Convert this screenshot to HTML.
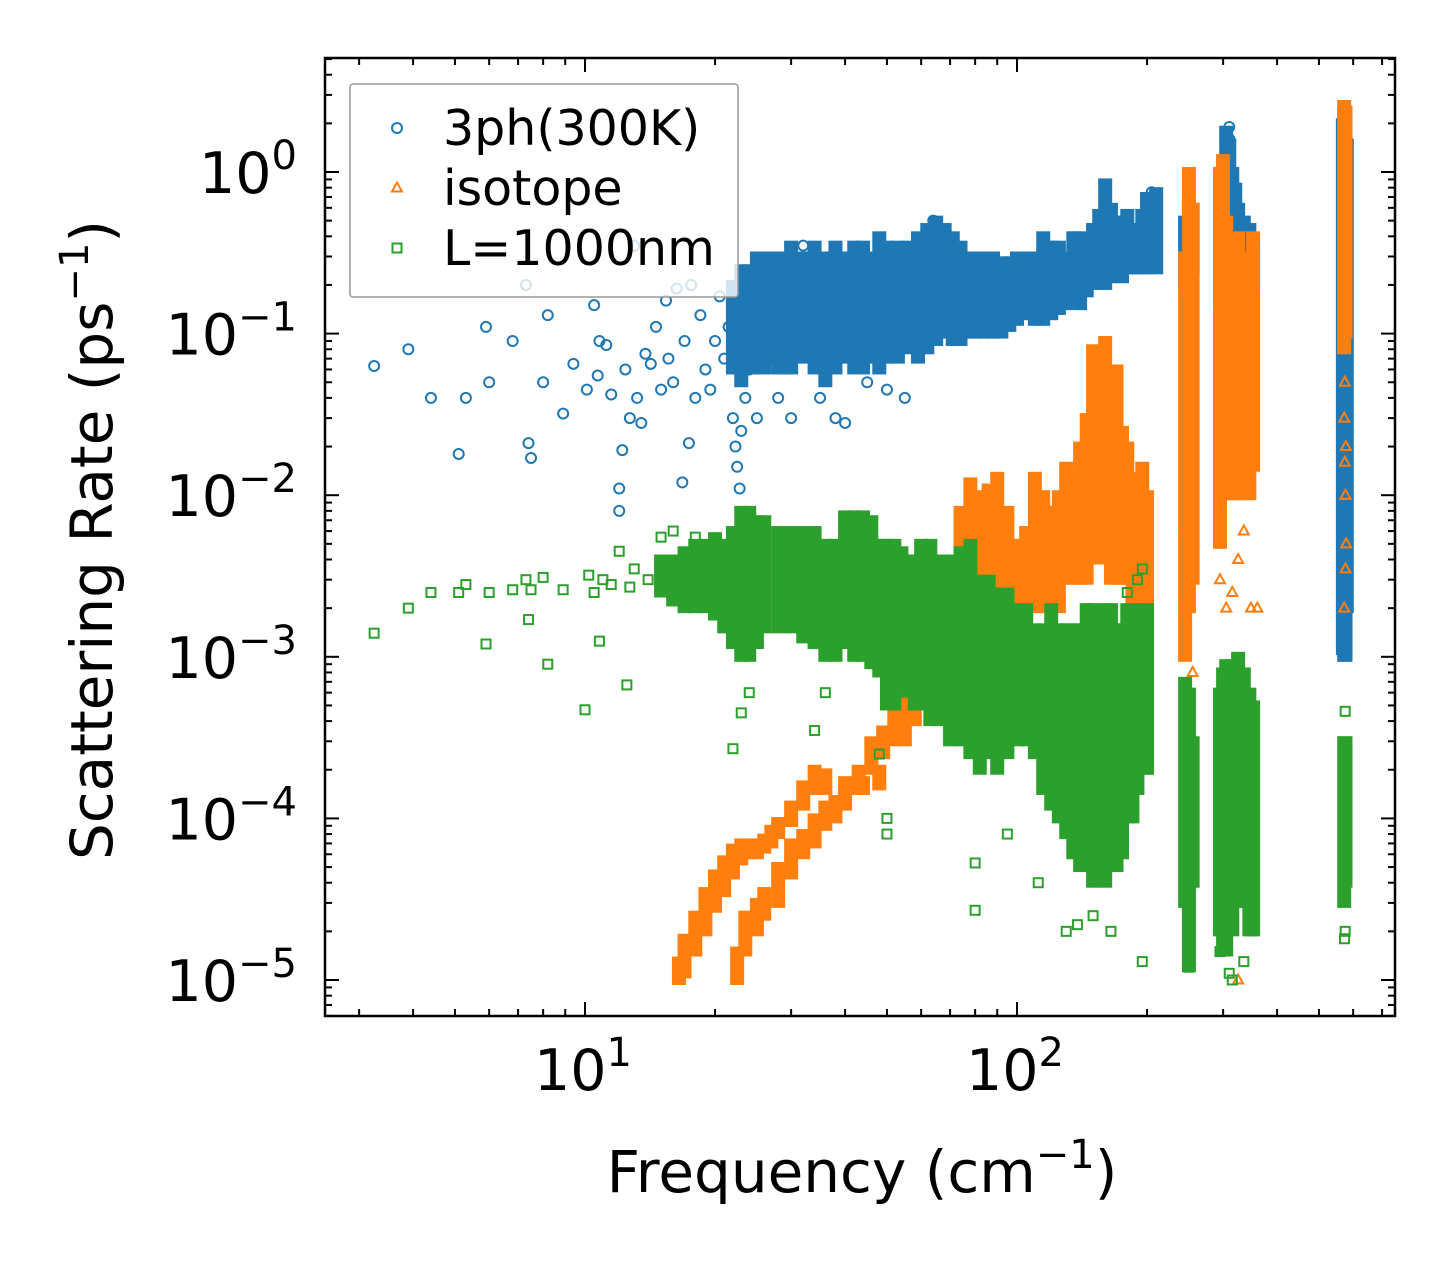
<!DOCTYPE html>
<html><head><meta charset="utf-8">
<style>
html,body{margin:0;padding:0;background:#fff;}
svg{display:block;font-family:"DejaVu Sans","Liberation Sans",sans-serif;}
</style></head>
<body>
<svg id="chart" width="1455" height="1265" viewBox="0 0 1455 1265" xmlns="http://www.w3.org/2000/svg">
<rect x="0" y="0" width="1455" height="1265" fill="#fff"/>
<defs><clipPath id="clip"><rect x="325" y="58" width="1070" height="958"/></clipPath></defs>
<g id="plot" clip-path="url(#clip)"></g>
<g id="axes"></g>
</svg>
<script>
// ---- data ----
const blueCols = [[22,.06,.2],[23,.05,.25],[24,.06,.25],[25,.06,.3],[26,.06,.3],[27,.07,.3],[28,.06,.3],[29,.06,.3],[30,.06,.35],[32,.07,.3],[34,.06,.35],[36,.05,.3],[38,.06,.35],[40,.07,.3],[42,.06,.35],[44,.06,.35],[46,.07,.3],[48,.06,.4],[50,.07,.35],[53,.07,.35],[56,.08,.35],[59,.07,.4],[62,.08,.45],[65,.09,.5],[68,.1,.45],[71,.09,.4],[74,.09,.35],[77,.1,.3],[80,.1,.3],[84,.1,.3],[88,.1,.3],[92,.1,.28],[96,.11,.28],[100,.12,.3],[105,.13,.3],[110,.12,.3],[115,.12,.4],[120,.13,.35],[125,.14,.35],[130,.15,.3],[135,.16,.4],[140,.15,.4],[145,.18,.35],[150,.2,.45],[155,.22,.55],[160,.2,.85],[165,.22,.6],[170,.23,.5],[175,.22,.5],[180,.25,.55],[185,.25,.45],[190,.25,.45],[195,.25,.55],[200,.25,.7],[210,.25,.75],[245,.2,.5],[250,.2,.65],[255,.25,.6],[295,.15,.9],[300,.12,1.2],[305,.13,1.8],[310,.15,1.5],[315,.15,1.0],[320,.2,.8],[325,.2,.6],[335,.15,.5],[345,.18,.45],[352,.2,.35],[568,.0011,2.0],[572,.001,2.3],[576,.001,2.2],[580,.002,1.5]];
const bluePts = [[3.25,.063],[3.9,.08],[4.4,.04],[5.1,.018],[5.3,.04],[5.9,.11],[6,.05],[6.8,.09],[7.3,.2],[7.4,.021],[7.5,.017],[8,.05],[8.2,.13],[8.9,.032],[9.4,.065],[10.1,.045],[10.5,.15],[10.7,.055],[10.8,.09],[11.2,.085],[11.5,.042],[12,.011],[12,.008],[12.2,.019],[12.4,.06],[12.7,.03],[13,.35],[13.2,.04],[13.5,.028],[13.8,.075],[14.2,.065],[14.6,.11],[15,.045],[15.4,.16],[15.6,.07],[16,.05],[16.3,.19],[16.8,.012],[17,.09],[17.4,.021],[17.6,.2],[18,.04],[18.5,.13],[19,.06],[19.5,.045],[20,.09],[20.5,.17],[21,.07],[21.5,.11],[22,.03],[22.3,.02],[22.5,.015],[22.8,.011],[23,.025],[23.5,.04],[24,.06],[25,.03],[27,.2],[28,.04],[30,.03],[32,.35],[35,.04],[38,.03],[40,.028],[42,.3],[45,.05],[50,.045],[55,.04],[64,.5],[205,.75],[310,1.9],[310,1.6]];
const orangeCols = [[16.5,1e-5,1.3e-5],[17,1.1e-5,1.8e-5],[18,1.5e-5,2.5e-5],[19,2e-5,3.5e-5],[20,2.8e-5,4.5e-5],[21,3.5e-5,5.5e-5],[22,4.5e-5,6.5e-5],[23,5.5e-5,7e-5],[24,6e-5,7e-5],[25,6e-5,7e-5],[26,6.5e-5,7.5e-5],[27,7e-5,8.5e-5],[28,8e-5,9.5e-5],[30,9.5e-5,1.2e-4],[32,1.2e-4,1.6e-4],[34,1.5e-4,2e-4],[36,1.5e-4,1.9e-4],[40,1.5e-4,1.7e-4],[44,1.5e-4,1.7e-4],[48,1.6e-4,2e-4],[22.5,1e-5,1.5e-5],[23.5,1.5e-5,2.5e-5],[25,2e-5,3e-5],[26,2.5e-5,3.5e-5],[28,3e-5,5e-5],[30,4.5e-5,7e-5],[32,6e-5,8e-5],[34,7e-5,1e-4],[36,9e-5,1.2e-4],[38,1e-4,1.3e-4],[40,1.2e-4,1.5e-4],[43,1.5e-4,2e-4],[46,2e-4,3e-4],[49,2.5e-4,3.5e-4],[52,3e-4,5e-4],[55,3e-4,7e-4],[58,4e-4,1e-3],[62,5e-4,2e-3],[66,7e-4,3e-3],[70,8e-4,4e-3],[74,1e-3,8e-3],[78,1.5e-3,1.2e-2],[82,2e-3,1e-2],[86,2e-3,1.1e-2],[90,2e-3,1.3e-2],[95,2e-3,8e-3],[100,1e-3,5e-3],[105,1.5e-3,6e-3],[110,2e-3,1.3e-2],[115,2e-3,1e-2],[120,2e-3,8e-3],[125,2e-3,1e-2],[130,3e-3,1.5e-2],[135,3e-3,1.3e-2],[140,3e-3,2e-2],[145,3e-3,3e-2],[150,4e-3,8e-2],[155,4e-3,6e-2],[160,4e-3,9e-2],[165,3e-3,4e-2],[170,3e-3,6e-2],[175,3e-3,2.5e-2],[180,3e-3,2e-2],[185,2e-3,1.3e-2],[190,2e-3,1e-2],[195,2e-3,1.5e-2],[200,2e-3,1e-2],[245,1e-3,0.3],[250,2e-3,1.0],[255,3e-3,0.6],[295,5e-3,1.0],[300,1e-2,1.2],[305,1e-2,0.5],[315,1e-2,0.3],[325,1e-2,0.4],[335,1e-2,0.2],[345,1e-2,0.3],[352,1.5e-2,0.4],[572,0.08,2.6],[576,0.1,2.4]];
const orangePts = [[245,.002],[250,.004],[255,.0008],[248,.006],[295,.003],[305,.002],[315,.0025],[325,.004],[335,.006],[348,.002],[360,.002],[325,.02],[345,.015],[325,1e-5],[572,.03],[576,.01],[574,.016],[578,.005],[572,.002],[576,.0035],[574,.05],[577,.02]];
const greenCols = [[15,2.5e-3,4e-3],[16,2.2e-3,4e-3],[17,2e-3,4.5e-3],[18,2e-3,5e-3],[19,2e-3,5e-3],[20,1.8e-3,5.5e-3],[21,1.5e-3,5e-3],[22,1.2e-3,6e-3],[23,1e-3,8e-3],[24,1e-3,8e-3],[25,1.2e-3,7e-3],[26,1.5e-3,7e-3],[28,1.5e-3,6e-3],[30,1.5e-3,6e-3],[32,1.3e-3,6e-3],[34,1.2e-3,6e-3],[36,1e-3,5e-3],[38,1e-3,5e-3],[40,1.2e-3,7.5e-3],[42,1e-3,7.5e-3],[44,1e-3,7.5e-3],[46,9e-4,7e-3],[48,8e-4,5e-3],[50,5e-4,5e-3],[52,5e-4,5e-3],[54,7e-4,4.5e-3],[56,6e-4,4e-3],[58,5e-4,4e-3],[60,5e-4,5e-3],[63,4e-4,5e-3],[66,4e-4,4e-3],[70,3e-4,4e-3],[74,3e-4,4.5e-3],[78,2.5e-4,5e-3],[82,2e-4,3e-3],[86,2.5e-4,3e-3],[90,2e-4,2.5e-3],[95,2.5e-4,2.5e-3],[100,3e-4,2e-3],[105,3e-4,2e-3],[110,2.5e-4,1.5e-3],[115,1.5e-4,1.5e-3],[120,1.2e-4,2e-3],[125,1e-4,1.5e-3],[130,8e-5,1.5e-3],[135,6e-5,1.5e-3],[140,5e-5,1.5e-3],[145,5e-5,2e-3],[150,4e-5,2e-3],[155,5e-5,1.5e-3],[160,4e-5,2e-3],[165,5e-5,2e-3],[170,5e-5,1.5e-3],[175,6e-5,1.5e-3],[180,1e-4,2e-3],[185,1e-4,1.8e-3],[190,1.5e-4,2e-3],[195,2e-4,2e-3],[200,2e-4,2e-3],[245,3e-5,7e-4],[250,1.2e-5,6e-4],[255,4e-5,3e-4],[295,2e-5,6e-4],[300,1.5e-5,8e-4],[305,1.5e-5,9e-4],[315,2e-5,9e-4],[325,3e-5,1e-3],[335,3e-5,8e-4],[345,2e-5,6e-4],[352,2e-5,5e-4],[572,3e-5,3e-4],[576,4e-5,3e-4]];
const greenPts = [[3.25,1.4e-3],[3.9,2e-3],[4.4,2.5e-3],[5.1,2.5e-3],[5.3,2.8e-3],[5.9,1.2e-3],[6,2.5e-3],[6.8,2.6e-3],[7.3,3e-3],[7.4,1.7e-3],[7.5,2.6e-3],[8,3.1e-3],[8.2,9e-4],[8.9,2.6e-3],[10,4.7e-4],[10.2,3.2e-3],[10.5,2.5e-3],[10.8,1.25e-3],[11,3e-3],[11.5,2.8e-3],[12,4.5e-3],[12.5,6.7e-4],[12.7,2.7e-3],[13,3.5e-3],[14,3e-3],[15,5.5e-3],[16,6e-3],[18,5.5e-3],[22,2.7e-4],[23,4.5e-4],[24,6e-4],[34,3.5e-4],[36,6e-4],[48,2.5e-4],[50,1e-4],[50,8e-5],[80,5.3e-5],[80,2.7e-5],[95,8e-5],[112,4e-5],[130,2e-5],[138,2.2e-5],[150,2.5e-5],[165,2e-5],[195,1.3e-5],[250,1.2e-5],[315,1e-5],[335,1.3e-5],[575,4.6e-4],[575,2e-5],[573,1.8e-5],[310,1.1e-5],[295,1.5e-5],[190,3e-3],[195,3.5e-3],[180,2.5e-3]];
const xTickVals = [10,100];
const xTickLabels = ["1","2"];
const yTickVals = [1,0.1,0.01,0.001,1e-4,1e-5];
const yTickLabels = ["0","\u22121","\u22122","\u22123","\u22124","\u22125"];

// ---- axis functions ----
const L=325,R=1395,T=58,B=1016;
const X0=585, XD=432, Y0=172, YD=161.6;
function xs(f){return X0+XD*(Math.log10(f)-1);}
function ys(v){return Y0-YD*Math.log10(v);}
const NS="http://www.w3.org/2000/svg";
const plot=document.getElementById('plot'), axes=document.getElementById('axes');
function mk(tag,attrs,parent){const e=document.createElementNS(NS,tag);for(const k in attrs)e.setAttribute(k,attrs[k]);parent.appendChild(e);return e;}

const colors={blue:"#1f77b4",orange:"#ff7f0e",green:"#2ca02c"};
function marker(kind,cx,cy,col,g){
  let e;
  if(kind==='circle'){e=mk('circle',{cx:cx,cy:cy,r:5,fill:'none',stroke:col,'stroke-width':2},g);}
  else if(kind==='tri'){e=mk('polygon',{points:`${cx},${cy-5.5} ${cx-5},${cy+3.5} ${cx+5},${cy+3.5}`,fill:'none',stroke:col,'stroke-width':2},g);}
  else {e=mk('rect',{x:cx-4.5,y:cy-4.5,width:9,height:9,fill:'none',stroke:col,'stroke-width':2},g);}
  return e;
}
function drawSeries(name,cols,pts,col,kind){
  const g=mk('g',{},plot);
  
  
  cols.forEach(c=>{
    const x=xs(c[0]),y1=ys(c[2]),y2=ys(c[1]);
    const r=mk('rect',{x:x-7,y:y1-5,width:14,height:(y2-y1)+10,fill:col},g);
    
    
  });
  pts.forEach(p=>{
    const m=marker(kind,xs(p[0]),ys(p[1]),col,g);
    
    
  });
}
drawSeries('3ph',blueCols,bluePts,colors.blue,'circle');
drawSeries('isotope',orangeCols,orangePts,colors.orange,'tri');
drawSeries('boundary',greenCols,greenPts,colors.green,'square');

// frame
const fr=mk('rect',{x:L,y:T,width:R-L,height:B-T,fill:'none',stroke:'#000','stroke-width':2.5},axes);



// x ticks
for(let d=0;d<3;d++){for(let k=1;k<10;k++){const f=k*Math.pow(10,d);const x=xs(f);if(x<L||x>R)continue;const len=(k===1)?14:7;
  mk('line',{x1:x,y1:B,x2:x,y2:B-len,stroke:'#000','stroke-width':2},axes);
  mk('line',{x1:x,y1:T,x2:x,y2:T+len,stroke:'#000','stroke-width':2},axes);}}
xTickVals.forEach((v,i)=>{
  const t=mk('text',{x:xs(v)-2,y:1090,'font-size':57,'text-anchor':'middle',fill:'#000'},axes);
  
  
  t.innerHTML='10<tspan dy="-24" font-size="40">'+xTickLabels[i]+'</tspan>';
});
// y ticks
for(let d=-6;d<1;d++){for(let k=1;k<10;k++){const v=k*Math.pow(10,d);const y=ys(v);if(y<T||y>B)continue;const len=(k===1)?14:7;
  mk('line',{x1:L,y1:y,x2:L+len,y2:y,stroke:'#000','stroke-width':2},axes);
  mk('line',{x1:R,y1:y,x2:R-len,y2:y,stroke:'#000','stroke-width':2},axes);}}
yTickVals.forEach((v,i)=>{
  const t=mk('text',{x:297,y:ys(v)+21,'font-size':57,'text-anchor':'end',fill:'#000'},axes);
  
  
  t.innerHTML='10<tspan dy="-24" font-size="40">'+yTickLabels[i]+'</tspan>';
});
// axis titles
const xt=mk('text',{x:862,y:1192,'font-size':58,'text-anchor':'middle',fill:'#000'},axes);


xt.innerHTML='Frequency (cm<tspan dy="-24" font-size="40">\u22121</tspan><tspan dy="24">)</tspan>';
const yt=mk('text',{x:0,y:0,'font-size':58,'text-anchor':'middle',fill:'#000',transform:'translate(112,540) rotate(-90)'},axes);


yt.innerHTML='Scattering Rate (ps<tspan dy="-24" font-size="40">\u22121</tspan><tspan dy="24">)</tspan>';

// legend
const lg=mk('g',{},axes);


mk('rect',{x:350,y:84,width:388,height:213,fill:'#fff','fill-opacity':0.8,stroke:'#999','stroke-width':1.5,rx:3},lg);
const legendLabels=["3ph(300K)","isotope","L=1000nm"];
const legendKinds=['circle','tri','square'];
const legendCols=[colors.blue,colors.orange,colors.green];
legendLabels.forEach((lab,i)=>{
  const cy=128+60*i;
  const m=marker(legendKinds[i],397,cy,legendCols[i],lg);
  
  
  const t=mk('text',{x:443,y:cy+17,'font-size':49,fill:'#000'},lg);
  
  
  t.textContent=lab;
});
</script>
</body></html>
